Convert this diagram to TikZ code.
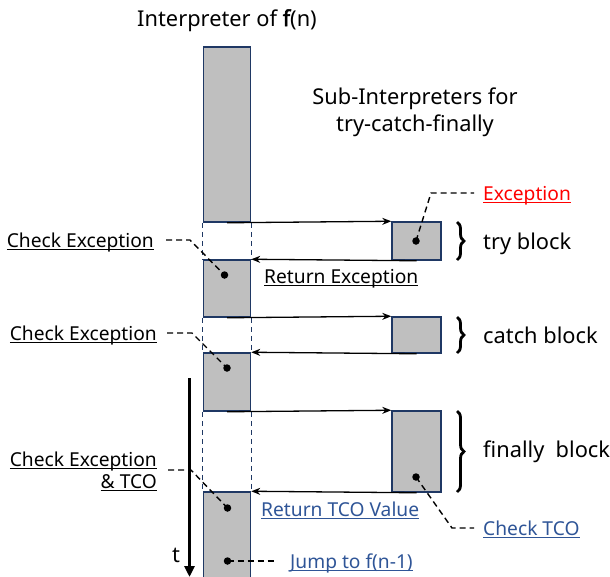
\documentclass[tikz,border=0pt]{standalone}
\usepackage{fontspec}
\setmainfont{Noto Sans}
\newfontfamily\heavysans{Noto Sans}[FakeBold=2.5]
\usetikzlibrary{arrows.meta,decorations.pathreplacing}

\definecolor{blockfill}{RGB}{191,191,191}
\definecolor{blockedge}{RGB}{31,56,100}
\definecolor{linkblue}{RGB}{47,85,151}
\definecolor{alertred}{RGB}{255,0,0}

\newcommand{\smallfont}{\fontsize{19.2}{22}\selectfont}
\newcommand{\largefont}{\fontsize{21.8}{27}\selectfont}
% underline sitting just below the baseline
\newcommand{\uline}[1]{\setbox0\hbox{#1}\rlap{\rule[-2.8pt]{\wd0}{0.9pt}}\box0}

\tikzset{
  blk/.style={draw=blockedge, fill=blockfill, line width=1.5pt, inner sep=0pt,
              rectangle, minimum width=47pt},
  subblk/.style={blk, minimum width=49pt},
  flow/.style={line width=1.3pt, -{Stealth[length=9pt,width=7pt]}},
  gap/.style={draw=blockedge, line width=1.3pt, dash pattern=on 5pt off 4pt},
  leader/.style={line width=1.4pt, dash pattern=on 6pt off 4pt},
  dotmark/.style={circle, fill=black, inner sep=0pt, minimum size=7.5pt},
  lbl/.style={font=\smallfont, inner sep=0pt},
  biglbl/.style={font=\largefont, inner sep=0pt},
  bracket/.style={line width=2.8pt, decorate,
                  decoration={brace, amplitude=7pt}},
}

\begin{document}
\begin{tikzpicture}[x=1pt, y=-1pt]
\useasboundingbox (0,0) rectangle (610,576);

% main interpreter and its time slices
\node[blk, minimum height=175pt] (m1) at (227,134.5) {};
\node[blk, minimum height=57pt]  (m2) at (227,288.5) {};
\node[blk, minimum height=58pt]  (m3) at (227,382) {};
\node[blk, minimum height=110pt] (m4) at (227,547) {};

% sub-interpreters
\node[subblk, minimum height=38pt] (try) at (416.5,241) {};
\node[subblk, minimum height=36pt] (catch) at (416.5,335) {};
\node[subblk, minimum height=81pt] (fin) at (416.5,451.5) {};

% suspended interpreter outline
\draw[gap] (m1.south west) -- (m2.north west);
\draw[gap] (m1.south east) -- (m2.north east);
\draw[gap] (m2.south west) -- (m3.north west);
\draw[gap] (m2.south east) -- (m3.north east);
\draw[gap] (m3.south west) -- (m4.north west);
\draw[gap] (m3.south east) -- (m4.north east);

% calls and returns
\draw[flow] (m1.south) -- (try.north west);
\draw[flow] (try.south) -- (m2.north east);
\draw[flow] (m2.south) -- (catch.north west);
\draw[flow] (catch.south) -- (m3.north east);
\draw[flow] (m3.south) -- (fin.north west);
\draw[flow] (fin.south) -- (m4.north east);

% dots
\node[dotmark] (d1) at (416,241) {};
\node[dotmark] (d2) at (224.5,275) {};
\node[dotmark] (d3) at (227,368) {};
\node[dotmark] (d4) at (416,477) {};
\node[dotmark] (d5) at (227.5,508) {};
\node[dotmark] (d6) at (227.5,561) {};

% titles
\node[biglbl, anchor=base] (title) at (227,26) {Interpreter of {\heavysans f}(n)};
\node[biglbl, anchor=base, align=center] (subtitle) at (415,131) {Sub-Interpreters for\\try-catch-finally};

% braces and block names
\draw[bracket] (457,222) -- (457,260);
\draw[bracket] (457,317) -- (457,353);
\draw[bracket] (457,411) -- (457,492);
\node[biglbl, anchor=base west] (ltry) at (483,249) {try block};
\node[biglbl, anchor=base west] (lcatch) at (483,343) {catch block};
\node[biglbl, anchor=base west] (lfin) at (483,457) {finally~~block};

% annotations
\node[lbl, anchor=base west, text=alertred] (exc) at (483,200) {\uline{Exception}};
\coordinate (c1) at (431,193);
\draw[leader] (d1.center) -- (c1) -- (474,193);

\node[lbl, anchor=base east] (ce1) at (154,247) {\uline{Check Exception}};
\coordinate (c2) at (190,240);
\draw[leader] (166,240) -- (c2) -- (d2.center);

\node[lbl, anchor=base east] (ce2) at (157,340) {\uline{Check Exception}};
\coordinate (c3) at (192,333);
\draw[leader] (167,333) -- (c3) -- (d3.center);

\node[lbl, anchor=base east] (ce3) at (157,466) {\uline{Check Exception}};
\node[lbl, anchor=base east] (ce3b) at (157,488) {\uline{\& TCO}};
\coordinate (c4) at (191,470);
\draw[leader] (168,470) -- (c4) -- (d5.center);

\node[lbl, anchor=base west] (rexc) at (264,283) {\uline{Return Exception}};

\node[lbl, anchor=base west, text=linkblue] (rtco) at (261,516) {\uline{Return TCO Value}};

\node[lbl, anchor=base west, text=linkblue] (ctco) at (483,535) {\uline{Check TCO}};
\coordinate (c5) at (452,528);
\draw[leader] (d4.center) -- (c5) -- (474,528);

\node[lbl, anchor=base west, text=linkblue] (jump) at (290,568) {\uline{Jump to f(n-1)}};
\draw[leader] (d6.center) -- (277,561);

% time axis
\coordinate (t0) at (189.5,378);
\coordinate (t1) at (189.5,577);
\draw[line width=3pt, -{Triangle[length=11pt,width=10pt]}] (t0) -- (t1);
\node[biglbl, anchor=base] (tl) at (176,562) {t};
\end{tikzpicture}
\end{document}
